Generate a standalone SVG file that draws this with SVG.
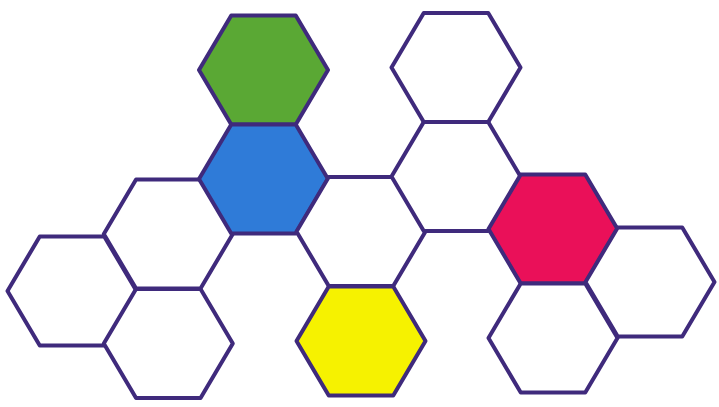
<svg xmlns="http://www.w3.org/2000/svg" xmlns:xlink="http://www.w3.org/1999/xlink" width="719" height="407" viewBox="0 0 719 407">
<style>
.hex{stroke:#3f2a7c;stroke-width:4;stroke-linejoin:round;fill:#ffffff}
.green{fill:#5aa834}
.blue{fill:#2f7bd8}
.pink{fill:#ea1059}
.yellow{fill:#f6f200}
</style>
<defs>
<polygon id="h" points="-64.5,0 -32.25,-54.5 32.25,-54.5 64.5,0 32.25,54.5 -32.25,54.5"/>
</defs>
<rect width="719" height="407" fill="#ffffff"/>
<g id="connectors"></g>
<g id="hex-B"><use xlink:href="#h" class="hex" transform="translate(72,291)"/></g>
<g id="hex-A"><use xlink:href="#h" class="hex" transform="translate(168.3,234)"/></g>
<g id="hex-C"><use xlink:href="#h" class="hex" transform="translate(168.3,343.5)"/></g>
<g id="hex-green"><use xlink:href="#h" class="hex green" transform="translate(263.5,70)"/></g>
<g id="hex-blue"><use xlink:href="#h" class="hex blue" transform="translate(263.5,179)"/></g>
<g id="hex-mid"><use xlink:href="#h" class="hex" transform="translate(361,231.5)"/></g>
<g id="hex-yellow"><use xlink:href="#h" class="hex yellow" transform="translate(361,341)"/></g>
<g id="hex-tr1"><use xlink:href="#h" class="hex" transform="translate(456,67.5)"/></g>
<g id="hex-tr2"><use xlink:href="#h" class="hex" transform="translate(456,176.5)"/></g>
<g id="hex-pink"><use xlink:href="#h" class="hex pink" transform="translate(553,229)"/></g>
<g id="hex-bottom"><use xlink:href="#h" class="hex" transform="translate(553,338)"/></g>
<g id="hex-right"><use xlink:href="#h" class="hex" transform="translate(650,282)"/></g>
</svg>
